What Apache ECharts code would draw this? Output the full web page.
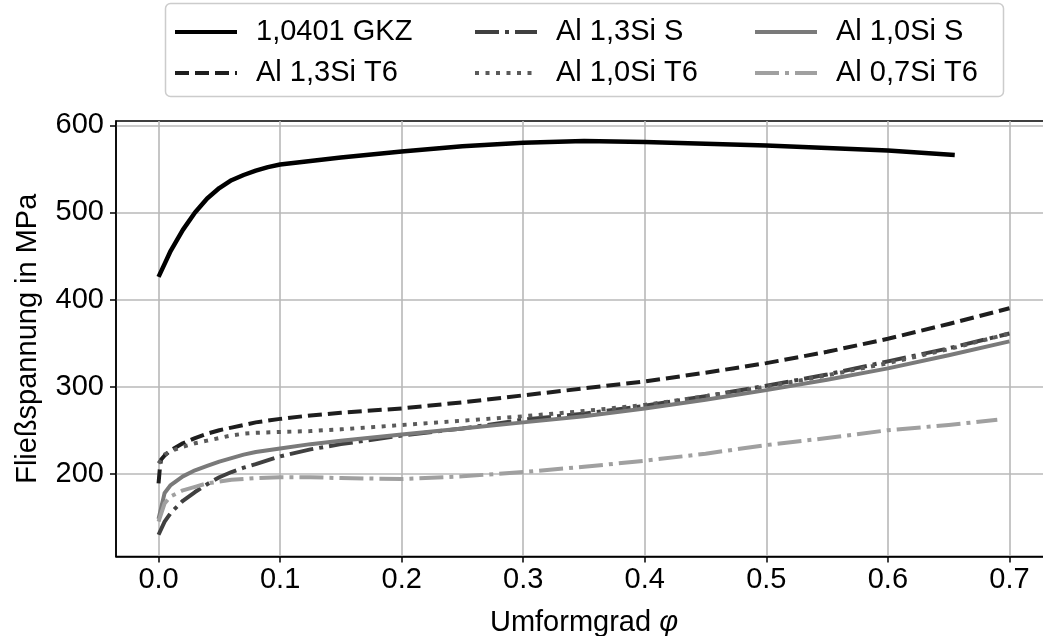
<!DOCTYPE html>
<html>
<head>
<meta charset="utf-8">
<script src="https://cdn.jsdelivr.net/npm/echarts@6/dist/echarts.min.js"></script>
<style>
  html, body { margin: 0; padding: 0; background: #fff; }
  #chart { width: 1043px; height: 636px; }
</style>
</head>
<body>
<div id="chart"></div>
<script>
// Flow curves: true strain (phi) vs. flow stress in MPa
const phiGKZ = [0, 0.005, 0.01, 0.02, 0.03, 0.04, 0.05, 0.06, 0.07, 0.08, 0.09, 0.1, 0.125, 0.15, 0.2, 0.25, 0.3, 0.35, 0.4, 0.45, 0.5, 0.55, 0.6, 0.655];
const sigmaGKZ = [426, 441, 456, 480, 500, 516, 528, 537, 543, 548, 552, 555, 559, 563, 570, 576, 580, 582, 581, 579, 577, 574, 571, 566];

const phiAl13T6 = [0, 0.001, 0.002, 0.005, 0.01, 0.02, 0.03, 0.04, 0.05, 0.06, 0.07, 0.08, 0.1, 0.125, 0.15, 0.2, 0.25, 0.3, 0.35, 0.4, 0.45, 0.5, 0.55, 0.6, 0.65, 0.7];
const sigmaAl13T6 = [189, 205, 216, 221, 227, 235, 241, 246, 250, 253, 256, 259, 263, 267, 270, 275, 282, 290, 298, 306, 316, 327, 340, 355, 372, 390];

const phiAl = [0, 0.005, 0.01, 0.02, 0.03, 0.04, 0.05, 0.06, 0.07, 0.08, 0.1, 0.125, 0.15, 0.2, 0.25, 0.3, 0.35, 0.4, 0.45, 0.5, 0.55, 0.6, 0.65, 0.7];
const sigmaAl13S = [130, 145, 155, 169, 179, 188, 196, 202, 207, 211, 220, 228, 234, 244, 252, 262, 269, 278, 289, 301, 314, 329, 344, 361];
const sigmaAl10T6 = [212, 222, 226, 231, 235, 238, 241, 244, 246, 247, 248, 249, 251, 256, 261, 266, 272, 279, 289, 300, 313, 327, 343, 361];
const sigmaAl10S = [148, 178, 187, 197, 204, 209, 214, 218, 222, 225, 229, 234, 238, 245, 252, 259, 266, 275, 285, 296, 308, 321, 336, 352];

const phiAl07T6 = [0, 0.005, 0.01, 0.02, 0.03, 0.04, 0.05, 0.06, 0.07, 0.08, 0.1, 0.125, 0.15, 0.2, 0.25, 0.3, 0.35, 0.4, 0.45, 0.5, 0.55, 0.6, 0.65, 0.69];
const sigmaAl07T6 = [145, 166, 174, 181, 185, 189, 191, 193, 194, 195, 196, 196, 195, 194, 197, 202, 208, 215, 223, 233, 241, 250, 256, 262];

const xTicks = [0, 0.1, 0.2, 0.3, 0.4, 0.5, 0.6, 0.7];
const yTicks = [200, 300, 400, 500, 600];

const seriesNames = ['1,0401 GKZ', 'Al 1,3Si T6', 'Al 1,3Si S', 'Al 1,0Si T6', 'Al 1,0Si S', 'Al 0,7Si T6'];

const pairs = (xs, ys) => xs.map((x, i) => [x, ys[i]]);

const FONT = '"Liberation Sans", Arial, sans-serif';
const FS = 29;
const dashed = [14, 6];
const dotted = [4, 6.5];
const dashDot = [24, 6, 4, 6];

function line(name, data, color, width, type) {
  return {
    name, type: 'line', data,
    showSymbol: false, symbol: 'none',
    smooth: false,
    lineStyle: { color, width, type, cap: 'butt', join: 'round' },
    itemStyle: { color },
    emphasis: { disabled: true },
    animation: false
  };
}

function legendColumn(left, names) {
  return {
    orient: 'vertical',
    left, top: 12,
    data: names,
    itemWidth: 62,
    itemHeight: 16,
    itemGap: 11,
    itemStyle: { opacity: 0, borderWidth: 0 },
    lineStyle: { width: 4 },
    textStyle: { fontFamily: FONT, fontSize: FS, color: '#000', lineHeight: 30, padding: [0, 0, 0, 14] },
    selectedMode: false
  };
}

const chart = echarts.init(document.getElementById('chart'), null, { renderer: 'canvas' });
chart.setOption({
  backgroundColor: '#fff',
  animation: false,
  graphic: [{
    type: 'rect', z: -1,
    shape: { x: 165.5, y: 3.5, width: 838, height: 93, r: 5 },
    style: { fill: '#fff', stroke: '#cccccc', lineWidth: 1.5 }
  }],
  legend: [
    legendColumn(168, [seriesNames[0], seriesNames[1]]),
    legendColumn(468, [seriesNames[2], seriesNames[3]]),
    legendColumn(748, [seriesNames[4], seriesNames[5]])
  ],
  grid: {
    left: 116, top: 121, width: 936, height: 435.5,
    show: true, borderColor: '#000', borderWidth: 1.5, backgroundColor: 'transparent',
    containLabel: false, outerBoundsMode: 'none'
  },
  xAxis: {
    type: 'value', min: -0.035, max: 0.735,
    name: 'Umformgrad {i|φ}', nameLocation: 'middle', nameGap: 52,
    nameTextStyle: { fontFamily: FONT, fontSize: FS, color: '#000',
      rich: { i: { fontFamily: FONT, fontSize: FS, fontStyle: 'italic', color: '#000' } } },
    axisLine: { show: true, onZero: false, lineStyle: { color: '#000', width: 1.5 } },
    axisTick: { show: true, inside: false, length: 6, customValues: xTicks, lineStyle: { color: '#000', width: 1.5 } },
    axisLabel: { customValues: xTicks, margin: 9, fontFamily: FONT, fontSize: FS, color: '#000',
      formatter: v => v.toFixed(1) },
    splitLine: { show: true, lineStyle: { color: '#b8b8b8', width: 1.6 } }
  },
  yAxis: {
    type: 'value', min: 105, max: 605,
    name: 'Fließspannung in MPa', nameLocation: 'middle', nameGap: 74, nameRotate: 90,
    nameTextStyle: { fontFamily: FONT, fontSize: FS, color: '#000' },
    axisLine: { show: true, onZero: false, lineStyle: { color: '#000', width: 1.5 } },
    axisTick: { show: true, inside: false, length: 6, customValues: yTicks, lineStyle: { color: '#000', width: 1.5 } },
    axisLabel: { customValues: yTicks, margin: 12, fontFamily: FONT, fontSize: FS, color: '#000' },
    splitLine: { show: true, lineStyle: { color: '#b8b8b8', width: 1.6 } }
  },
  series: [
    line(seriesNames[0], pairs(phiGKZ, sigmaGKZ), '#000000', 4.5, 'solid'),
    line(seriesNames[1], pairs(phiAl13T6, sigmaAl13T6), '#1e1e1e', 4, dashed),
    line(seriesNames[2], pairs(phiAl, sigmaAl13S), '#404040', 4, dashDot),
    line(seriesNames[3], pairs(phiAl, sigmaAl10T6), '#5a5a5a', 4, dotted),
    line(seriesNames[4], pairs(phiAl, sigmaAl10S), '#7a7a7a', 4, 'solid'),
    line(seriesNames[5], pairs(phiAl07T6, sigmaAl07T6), '#a0a0a0', 4, dashDot)
  ]
});
</script>
</body>
</html>
